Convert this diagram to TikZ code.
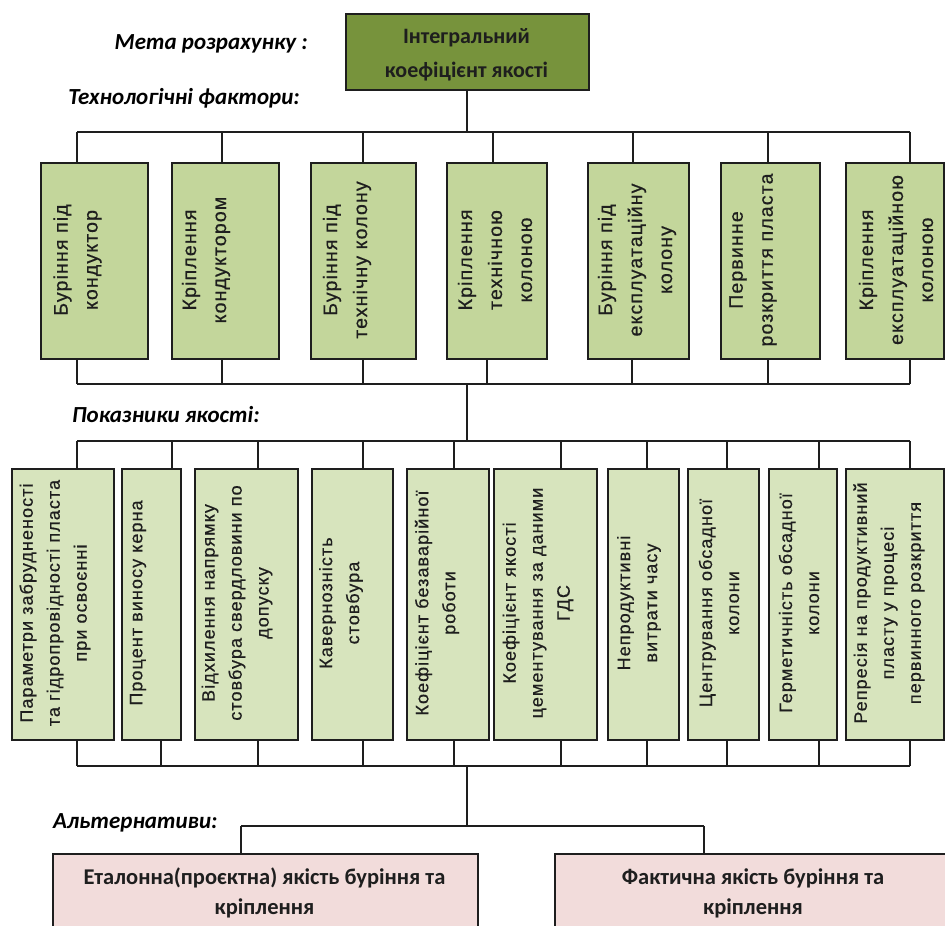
\documentclass[tikz,border=0pt]{standalone}
\usepackage{fontspec}
\setmainfont{Carlito}
\newfontfamily\boxfont[LetterSpace=6,FakeBold=0.6]{Liberation Sans}
\definecolor{topgreen}{HTML}{77933C}
\definecolor{facgreen}{HTML}{C3D69B}
\definecolor{indgreen}{HTML}{D7E4BD}
\definecolor{altpink}{HTML}{F2DCDB}
\definecolor{edge}{HTML}{1E1E1E}
\tikzset{
  x=1pt, y=-1pt,
  boxbase/.style={draw=edge, line width=1.6pt, inner sep=0pt, anchor=north west},
  topbox/.style={boxbase, fill=topgreen},
  facbox/.style={boxbase, fill=facgreen},
  indbox/.style={boxbase, fill=indgreen},
  altbox/.style={boxbase, fill=altpink},
  conn/.style={draw=edge, line width=1.4pt},
  vtext/.style={rotate=90, align=center, inner sep=0pt, text=edge,
    font=\boxfont\fontsize{19.5}{30}\selectfont},
  vtexttwo/.style={vtext, font=\boxfont\fontsize{18}{27}\selectfont},
  htext/.style={align=center, inner sep=0pt, text=edge},
  lbl/.style={inner sep=0pt, text=black, font=\bfseries\itshape\fontsize{23}{27}\selectfont},
}
\begin{document}
\begin{tikzpicture}
\useasboundingbox (0,0) rectangle (945,926);
\clip (0,0) rectangle (945,926);

% labels
\node[lbl, anchor=east] (lgoal) at (308,44) {Мета розрахунку :};
\node[lbl, anchor=east] (lfac) at (300,98) {Технологічні фактори:};
\node[lbl, anchor=west] (lind) at (72,415) {Показники якості:};
\node[lbl, anchor=west] (lalt) at (53,823) {Альтернативи:};

% top box
\node[topbox, minimum width=243, minimum height=76] (top) at (345,13) {};
\node[htext, font=\bfseries\fontsize{22}{34}\selectfont] (toptext) at (466.5,55) {Інтегральний\\коефіцієнт якості};

% bus coordinates
\coordinate (bus1L) at (77,132);
\coordinate (bus1R) at (910,132);
\coordinate (bus2L) at (77,384);
\coordinate (bus2R) at (910,384);
\coordinate (bus3L) at (77,441);
\coordinate (bus3R) at (910,441);
\coordinate (bus4L) at (77,766);
\coordinate (bus4R) at (910,766);
\coordinate (bus5L) at (241,826);
\coordinate (bus5R) at (704,826);
\coordinate (m1) at (467,132);
\coordinate (m2) at (467,384);
\coordinate (m3) at (467,441);
\coordinate (m4) at (467,766);
\coordinate (m5) at (467,826);

% factor boxes
\foreach \i/\xa/\xb/\ct/\cb in {1/40/147/77/77, 2/171/278/222/222, 3/310/415/363/363, 4/446/546/493/487, 5/587/688/633/632, 6/720/819/768/768, 7/845/943/910/910}{
  \node[facbox, minimum width=\xb-\xa, minimum height=196] (f\i) at (\xa,162) {};
  \coordinate (ft\i) at (\ct,132);
  \coordinate (fb\i) at (\cb,384);
  \draw[conn] (ft\i) -- (ft\i |- f\i.north);
  \draw[conn] (fb\i |- f\i.south) -- (fb\i);
}

% indicator boxes
\foreach \i/\xa/\xb/\ct/\cb in {1/11/113/77/77, 2/121/180/172/161, 3/194/297/258/258, 4/311/392/363/363, 5/406/488/454/454, 6/493/596/561/561, 7/607/678/647/647, 8/687/758/727/727, 9/768/836/819/819, 10/845/943/910/910}{
  \node[indbox, minimum width=\xb-\xa, minimum height=271] (g\i) at (\xa,468) {};
  \coordinate (gt\i) at (\ct,441);
  \coordinate (gb\i) at (\cb,766);
  \draw[conn] (gt\i) -- (gt\i |- g\i.north);
  \draw[conn] (gb\i |- g\i.south) -- (gb\i);
}

% alternative boxes
\node[altbox, minimum width=425, minimum height=120] (a1) at (52,853) {};
\node[altbox, minimum width=420, minimum height=120] (a2) at (554,853) {};
\node[htext, font=\bfseries\fontsize{22.5}{30}\selectfont] (a1t) at (264.5,893) {Еталонна(проєктна) якість буріння та\\кріплення};
\node[htext, font=\bfseries\fontsize{22.5}{30}\selectfont] (a2t) at (753,893) {Фактична якість буріння та\\кріплення};

% buses and trunk
\draw[conn] (bus1L) -- (bus1R);
\draw[conn] (bus2L) -- (bus2R);
\draw[conn] (bus3L) -- (bus3R);
\draw[conn] (bus4L) -- (bus4R);
\draw[conn] (bus5L) -- (bus5R);
\draw[conn] (top.south -| m1) -- (m1);
\draw[conn] (m2) -- (m3);
\draw[conn] (m4) -- (m5);
\draw[conn] (bus5L) -- (bus5L |- a1.north);
\draw[conn] (bus5R) -- (bus5R |- a2.north);

% factor texts
\node[vtext] (f1t) at (77.5,260) {Буріння під\\кондуктор};
\node[vtext] (f2t) at (206,260) {Кріплення\\кондуктором};
\node[vtext] (f3t) at (347,260) {Буріння під\\технічну колону};
\node[vtext] (f4t) at (495,260) {Кріплення\\технічною\\колоною};
\node[vtext] (f5t) at (637,260) {Буріння під\\експлуатаційну\\колону};
\node[vtext] (f6t) at (753,260) {Первинне\\розкриття пласта};
\node[vtext] (f7t) at (896,260) {Кріплення\\експлуатаційною\\колоною};

% indicator texts
\node[vtexttwo] (g1t) at (55,603) {Параметри забрудненості\\та гідропровідності пласта\\при освоєнні};
\node[vtexttwo] (g2t) at (138,603) {Процент виносу керна};
\node[vtexttwo] (g3t) at (237,603) {Відхилення напрямку\\стовбура свердловини по\\допуску};
\node[vtexttwo] (g4t) at (341,603) {Кавернозність\\стовбура};
\node[vtexttwo] (g5t) at (437,603) {Коефіцієнт безаварійної\\роботи};
\node[vtexttwo] (g6t) at (538,603) {Коефіцієнт якості\\цементування за даними\\ГДС};
\node[vtexttwo] (g7t) at (639,603) {Непродуктивні\\витрати часу};
\node[vtexttwo] (g8t) at (719,603) {Центрування обсадної\\колони};
\node[vtexttwo] (g9t) at (799,603) {Герметичність обсадної\\колони};
\node[vtexttwo] (g10t) at (889,603) {Репресія на продуктивний\\пласту у процесі\\первинного розкриття};
\end{tikzpicture}
\end{document}
